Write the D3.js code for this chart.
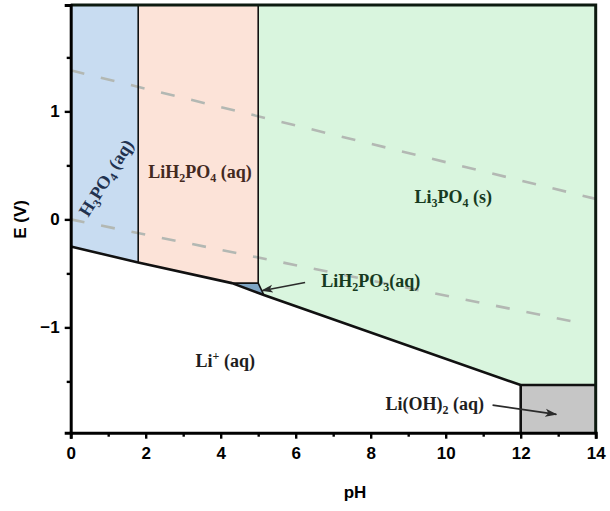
<!DOCTYPE html>
<html>
<head>
<meta charset="utf-8">
<script src="https://cdn.jsdelivr.net/npm/d3@7"></script>
<style>
  body { margin: 0; background: #fff; }
  svg { display: block; }
</style>
</head>
<body>
<div id="chart"></div>
<script>
// plot limits (pH, E)
const pHDomain = [0, 14];
const eDomain = [-1.975, 1.985];
const xTicks = [0, 2, 4, 6, 8, 10, 12, 14];
const xMinor = [1, 3, 5, 7, 9, 11, 13];
const yTicks = [-1, 0, 1];
const yMinor = [-1.5, -0.5, 0.5, 1.5];

const ET = eDomain[1], EB = eDomain[0];

// stability regions, [pH, E]
const regions = [
  { name: 'H3PO4', fill: '#c8dcf1', pts: [[0, ET], [1.8, ET], [1.8, -0.40], [0, -0.25]] },
  { name: 'LiH2PO4', fill: '#fce3d8', pts: [[1.8, ET], [5.0, ET], [5.0, -0.59], [4.3, -0.59], [1.8, -0.40]] },
  { name: 'LiH2PO3', fill: '#7fa5c4', pts: [[4.3, -0.59], [5.0, -0.59], [5.15, -0.70]] },
  { name: 'Li3PO4', fill: '#d9f5de', pts: [[5.0, ET], [14, ET], [14, -1.534], [12, -1.534], [5.15, -0.70], [5.0, -0.59]] },
  { name: 'LiOH2', fill: '#c6c6c6', pts: [[12, -1.534], [14, -1.534], [14, EB], [12, EB]] }
];

// region boundaries
const thickLines = [
  [[0, -0.25], [1.8, -0.40], [4.3, -0.59], [5.15, -0.70], [12, -1.534], [14, -1.534]],
  [[12, -1.534], [12, EB]]
];
const thinLines = [
  [[1.8, ET], [1.8, -0.40]],
  [[5.0, ET], [5.0, -0.59], [4.3, -0.59]],
  [[5.0, -0.59], [5.15, -0.70]]
];

// water stability lines
const waterLines = [
  [[0, 1.38], [14, 0.19]],
  [[0, 0.0], [13.6, -0.96]]
];

// labels: parts [text, 'sub'|'sup'|'']
const labels = [
  { at: [1.08, 0.355], rot: -58, color: '#22324f', parts: [['H', ''], ['3', 'sub'], ['PO', ''], ['4', 'sub'], [' (aq)', '']] },
  { at: [3.45, 0.38], rot: 0, color: '#43291f', parts: [['LiH', ''], ['2', 'sub'], ['PO', ''], ['4', 'sub'], [' (aq)', '']] },
  { at: [10.2, 0.15], rot: 0, color: '#173a1f', parts: [['Li', ''], ['3', 'sub'], ['PO', ''], ['4', 'sub'], [' (s)', '']] },
  { at: [8.0, -0.627], rot: 0, color: '#173a1f', parts: [['LiH', ''], ['2', 'sub'], ['PO', ''], ['3', 'sub'], ['(aq)', '']] },
  { at: [4.12, -1.367], rot: 0, color: '#1e1e1e', parts: [['Li', ''], ['+', 'sup'], [' (aq)', '']] },
  { at: [9.71, -1.766], rot: 0, color: '#1e1e1e', parts: [['Li(OH)', ''], ['2', 'sub'], [' (aq)', '']] }
];

const arrows = [
  [[6.25, -0.585], [5.1, -0.66]],
  [[11.25, -1.72], [12.95, -1.805]]
];

const W = 610, H = 511;
const x = d3.scaleLinear().domain(pHDomain).range([70.7, 595.7]);
const y = d3.scaleLinear().domain(eDomain).range([432.7, 5]);

const svg = d3.select('#chart').append('svg')
  .attr('width', W)
  .attr('height', H);

svg.append('defs').append('marker')
  .attr('id', 'arr')
  .attr('viewBox', '0 -5 12 10')
  .attr('refX', 11)
  .attr('refY', 0)
  .attr('markerWidth', 12)
  .attr('markerHeight', 10)
  .attr('markerUnits', 'userSpaceOnUse')
  .attr('orient', 'auto')
  .append('path')
  .attr('d', 'M0,-4L12,0L0,4L3,0Z')
  .attr('fill', '#2b2b2b');

const line = d3.line().x(d => x(d[0])).y(d => y(d[1]));

svg.selectAll('.region')
  .data(regions)
  .enter().append('path')
  .attr('class', 'region')
  .attr('d', d => line(d.pts) + 'Z')
  .attr('fill', d => d.fill);

svg.selectAll('.water')
  .data(waterLines)
  .enter().append('path')
  .attr('class', 'water')
  .attr('d', line)
  .attr('fill', 'none')
  .attr('stroke', '#b3b8b3')
  .attr('stroke-width', 2.6)
  .attr('stroke-dasharray', '14,17');

svg.selectAll('.thin')
  .data(thinLines)
  .enter().append('path')
  .attr('class', 'thin')
  .attr('d', line)
  .attr('fill', 'none')
  .attr('stroke', '#111')
  .attr('stroke-width', 1.6);

svg.selectAll('.thick')
  .data(thickLines)
  .enter().append('path')
  .attr('class', 'thick')
  .attr('d', line)
  .attr('fill', 'none')
  .attr('stroke', '#111')
  .attr('stroke-width', 2.6)
  .attr('stroke-linejoin', 'round');

// frame top + right
svg.append('path')
  .attr('d', line([[0, ET], [14, ET], [14, EB]]))
  .attr('fill', 'none')
  .attr('stroke', '#0d1a10')
  .attr('stroke-width', 3);

// labels
const lab = svg.selectAll('.lab')
  .data(labels)
  .enter().append('text')
  .attr('class', 'lab')
  .attr('transform', d => `translate(${x(d.at[0])},${y(d.at[1])}) rotate(${d.rot})`)
  .attr('text-anchor', 'middle')
  .attr('font-family', '"Liberation Serif", "Times New Roman", serif')
  .attr('font-weight', 'bold')
  .attr('font-size', 18)
  .attr('fill', d => d.color);

lab.each(function (d) {
  const t = d3.select(this);
  let shift = 0;
  d.parts.forEach(p => {
    const target = p[1] === 'sub' ? 4 : p[1] === 'sup' ? -7 : 0;
    t.append('tspan')
      .attr('dy', target - shift)
      .attr('font-size', p[1] ? 12 : 18)
      .text(p[0]);
    shift = target;
  });
});

svg.selectAll('.arrow')
  .data(arrows)
  .enter().append('path')
  .attr('class', 'arrow')
  .attr('d', line)
  .attr('stroke', '#2b2b2b')
  .attr('stroke-width', 1.6)
  .attr('marker-end', 'url(#arr)');

// axes
svg.append('g')
  .attr('transform', `translate(0,${y(EB)})`)
  .call(d3.axisBottom(x).tickValues(xTicks).tickSize(6).tickPadding(8).tickFormat(d3.format('d')));
svg.append('g')
  .attr('transform', `translate(0,${y(EB)})`)
  .call(d3.axisBottom(x).tickValues(xMinor).tickSize(4).tickFormat(''))
  .call(g => g.select('.domain').remove());

svg.append('g')
  .attr('transform', `translate(${x(0)},0)`)
  .call(d3.axisLeft(y).tickValues(yTicks).tickSize(6).tickPadding(5).tickFormat(d3.format('d')));
svg.append('g')
  .attr('transform', `translate(${x(0)},0)`)
  .call(d3.axisLeft(y).tickValues(yMinor).tickSize(4).tickFormat(''))
  .call(g => g.select('.domain').remove());

svg.selectAll('.domain')
  .attr('stroke', '#000')
  .attr('stroke-width', 3);
svg.selectAll('.tick line')
  .attr('stroke', '#000')
  .attr('stroke-width', 2.4);
svg.selectAll('.tick text')
  .attr('font-family', '"Liberation Sans", Arial, sans-serif')
  .attr('font-weight', 'bold')
  .attr('font-size', 17)
  .attr('fill', '#000');

svg.append('text')
  .attr('transform', `translate(26,${y(0)}) rotate(-90)`)
  .attr('text-anchor', 'middle')
  .attr('font-family', '"Liberation Sans", Arial, sans-serif')
  .attr('font-weight', 'bold')
  .attr('font-size', 17)
  .text('E (V)');

svg.append('text')
  .attr('x', 355)
  .attr('y', 498)
  .attr('text-anchor', 'middle')
  .attr('font-family', '"Liberation Sans", Arial, sans-serif')
  .attr('font-weight', 'bold')
  .attr('font-size', 17)
  .text('pH');
</script>
</body>
</html>
